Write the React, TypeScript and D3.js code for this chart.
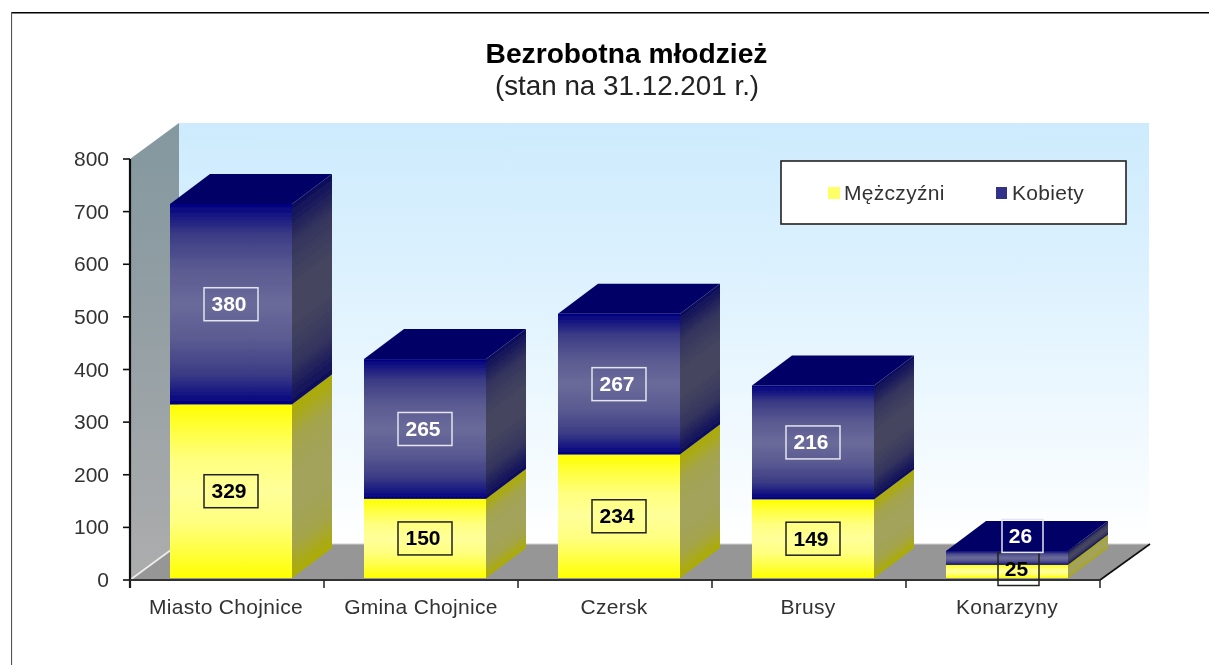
import React from "react";
import * as d3 from "d3";

const categories = ["Miasto Chojnice", "Gmina Chojnice", "Czersk", "Brusy", "Konarzyny"];
const men = [329, 150, 234, 149, 25];
const women = [380, 265, 267, 216, 26];
const yTicks = [0, 100, 200, 300, 400, 500, 600, 700, 800];
const seriesNames = ["Mężczyźni", "Kobiety"];
const titleText = "Bezrobotna młodzież";
const subtitleText = "(stan na 31.12.201 r.)";

const FONT = "'Liberation Sans', Arial, sans-serif";
const AX = { left: 130, right: 1100, top: 159, bottom: 580 };
const WALL = { dx: 49, dy: 36 };
const BAR = { inset: 40, width: 122, dx: 40, dy: 30 };

const rows = categories.map((c, i) => ({ c, m: men[i], k: women[i] }));
const stack = d3.stack<any>().keys(["m", "k"])(rows);
const x = d3.scaleBand<string>().domain(categories).range([AX.left, AX.right]);
const y = d3.scaleLinear().domain([0, 800]).range([AX.bottom, AX.top]);
// bars stand slightly forward of the axis plane, so they have their own scale
const yBar = d3.scaleLinear().domain([0, 800]).range([578, 156]);

const line = d3.line();
const poly = (p: [number, number][]) => line(p) + "Z";

const palette = [
  { front: "fYellow", sideEdge: "#acac00", sideMid: "#a4a44c", sideCentre: "#a3a35c", text: "#000", box: "#222" },
  { front: "fBlue", sideEdge: "#0c0c5a", sideMid: "#35355e", sideCentre: "#44445f", text: "#fff", box: "#e4e4ee" },
];
const topColor = "#000066";

// Konarzyny's two labels sit away from their segments in the source.
const labelShift: Record<string, { dx: number; dy: number }> = {
  "0-4": { dx: 11.5, dy: -2.4 },
  "1-4": { dx: 15.5, dy: -22 },
};
const catNudge: Record<string, number> = { "Gmina Chojnice": 1, Konarzyny: 5 };

export default function App() {
  // side-face gradients run square to the depth direction of the box
  const len = Math.hypot(BAR.dx, BAR.dy);
  const nx = BAR.dy / len;
  const ny = BAR.dx / len;
  return (
    <svg width={1209} height={665} style={{ position: "absolute", left: 0, top: 0, background: "#fff" }} fontFamily={FONT}>
      <defs>
        <filter id="soft" x="0" y="0" width="100%" height="100%">
          <feGaussianBlur stdDeviation="0.4" />
        </filter>
        <linearGradient id="wallBack" x1="0" y1="0" x2="0" y2="1">
          <stop offset="0" stopColor="#cdebfd" />
          <stop offset="0.35" stopColor="#dcf1fe" />
          <stop offset="1" stopColor="#ffffff" />
        </linearGradient>
        <linearGradient id="wallLeft" x1="0" y1="0" x2="0" y2="1">
          <stop offset="0" stopColor="#84989f" />
          <stop offset="0.4" stopColor="#929ea4" />
          <stop offset="1" stopColor="#adadad" />
        </linearGradient>
        <linearGradient id="fYellow" x1="0" y1="0" x2="0" y2="1">
          <stop offset="0" stopColor="#ffff00" />
          <stop offset="0.15" stopColor="#ffff40" />
          <stop offset="0.32" stopColor="#ffff80" />
          <stop offset="0.5" stopColor="#ffff99" />
          <stop offset="0.68" stopColor="#ffff80" />
          <stop offset="0.85" stopColor="#ffff40" />
          <stop offset="1" stopColor="#ffff00" />
        </linearGradient>
        <linearGradient id="fBlue" x1="0" y1="0" x2="0" y2="1">
          <stop offset="0" stopColor="#000080" />
          <stop offset="0.15" stopColor="#3b3b85" />
          <stop offset="0.32" stopColor="#5a5a92" />
          <stop offset="0.5" stopColor="#6a6a9a" />
          <stop offset="0.68" stopColor="#5a5a92" />
          <stop offset="0.85" stopColor="#3b3b85" />
          <stop offset="1" stopColor="#000080" />
        </linearGradient>
        {categories.map((c, i) => {
          const x1 = x(c)! + BAR.inset + BAR.width;
          return stack.map((s, si) => {
            const yT = yBar(s[i][1]);
            const h = yBar(s[i][0]) - yT;
            const proj = h * ny;
            const p = palette[si];
            return (
              <linearGradient
                key={`${c}${si}`}
                id={`side-${i}-${si}`}
                gradientUnits="userSpaceOnUse"
                x1={x1}
                y1={yT}
                x2={x1 + nx * proj}
                y2={yT + ny * proj}
              >
                <stop offset="0" stopColor={p.sideEdge} />
                <stop offset="0.2" stopColor={p.sideMid} />
                <stop offset="0.4" stopColor={p.sideCentre} />
                <stop offset="0.6" stopColor={p.sideCentre} />
                <stop offset="0.8" stopColor={p.sideMid} />
                <stop offset="1" stopColor={p.sideEdge} />
              </linearGradient>
            );
          });
        })}
      </defs>

      <g filter="url(#soft)">
        {/* frame */}
        <line x1={11} y1={12.5} x2={1209} y2={12.5} stroke="#000" strokeWidth={1.8} />
        <line x1={11} y1={12} x2={11} y2={665} stroke="#555" strokeWidth={2.2} />

        {/* title */}
        <text x={626.5} y={63} textAnchor="middle" fontSize={28.2} fontWeight={700} fill="#000">{titleText}</text>
        <text x={627} y={95} textAnchor="middle" fontSize={27.8} fill="#222">{subtitleText}</text>

        {/* walls and floor */}
        <rect x={AX.left + WALL.dx} y={AX.top - WALL.dy} width={AX.right - AX.left} height={AX.bottom - AX.top} fill="url(#wallBack)" />
        <path d={poly([[AX.left, AX.top], [AX.left + WALL.dx, AX.top - WALL.dy], [AX.left + WALL.dx, AX.bottom - WALL.dy], [AX.left, AX.bottom]])} fill="url(#wallLeft)" />
        <path d={poly([[AX.left, AX.bottom], [AX.left + WALL.dx, AX.bottom - WALL.dy], [AX.right + WALL.dx, AX.bottom - WALL.dy], [AX.right, AX.bottom]])} fill="#969696" />
        <line x1={AX.left} y1={AX.bottom} x2={AX.left + WALL.dx} y2={AX.bottom - WALL.dy} stroke="#eee" strokeWidth={1.6} />
        <line x1={AX.left + WALL.dx} y1={AX.bottom - WALL.dy} x2={AX.right + WALL.dx} y2={AX.bottom - WALL.dy} stroke="#cfcfcf" strokeWidth={1} />
        <line x1={AX.right} y1={AX.bottom} x2={AX.right + WALL.dx + 1} y2={AX.bottom - WALL.dy} stroke="#111" strokeWidth={1.6} />

        {/* y axis */}
        <line x1={AX.left} y1={AX.top} x2={AX.left} y2={AX.bottom + 8} stroke="#111" strokeWidth={2.2} />
        {yTicks.map((t) => (
          <g key={t}>
            <line x1={AX.left - 7} x2={AX.left} y1={y(t)} y2={y(t)} stroke="#111" strokeWidth={1.6} />
            <text x={AX.left - 21} y={y(t) + 7} textAnchor="end" fontSize={21} fill="#333">{t}</text>
          </g>
        ))}

        {/* x axis */}
        <line x1={AX.left} y1={AX.bottom} x2={AX.right} y2={AX.bottom} stroke="#333" strokeWidth={2.2} />
        {[...categories.map((c) => x(c)!), AX.right].map((v) => (
          <line key={v} x1={v} x2={v} y1={AX.bottom} y2={AX.bottom + 8} stroke="#222" strokeWidth={1.5} />
        ))}
        {categories.map((c) => (
          <text key={c} x={x(c)! + x.bandwidth() / 2 - 1 + (catNudge[c] ?? 0)} y={614} textAnchor="middle" fontSize={21} letterSpacing={0.3} fill="#333">{c}</text>
        ))}

        {/* bars */}
        {categories.map((c, i) => {
          const x0 = x(c)! + BAR.inset;
          const x1 = x0 + BAR.width;
          const top = yBar(stack[1][i][1]);
          return (
            <g key={c}>
              {stack.map((s, si) => {
                const yTop = yBar(s[i][1]);
                const yBot = yBar(s[i][0]);
                return (
                  <g key={si}>
                    <path d={poly([[x1, yBot], [x1 + BAR.dx, yBot - BAR.dy], [x1 + BAR.dx, yTop - BAR.dy], [x1, yTop]])} fill={`url(#side-${i}-${si})`} />
                    <rect x={x0} y={yTop} width={BAR.width} height={yBot - yTop} fill={`url(#${palette[si].front})`} />
                  </g>
                );
              })}
              <path d={poly([[x0, top], [x0 + BAR.dx, top - BAR.dy], [x1 + BAR.dx, top - BAR.dy], [x1, top]])} fill={topColor} />
            </g>
          );
        })}

        {/* value labels */}
        {categories.map((c, i) => {
          const cx = x(c)! + BAR.inset + BAR.width / 2;
          return stack.map((s, si) => {
            const v = s[i][1] - s[i][0];
            const sh = labelShift[`${si}-${i}`] ?? { dx: 0, dy: 0 };
            const cy = (yBar(s[i][0]) + yBar(s[i][1])) / 2 + sh.dy;
            const w = String(v).length === 3 ? 54 : 41;
            return (
              <g key={`${c}-${si}`}>
                <rect x={cx + sh.dx - w / 2} y={cy - 16.5} width={w} height={33} fill="none" stroke={palette[si].box} strokeWidth={1.5} />
                <text x={cx + sh.dx - 2} y={cy + 6.8} textAnchor="middle" fontSize={21} fontWeight={700} fill={palette[si].text}>{v}</text>
              </g>
            );
          });
        })}

        {/* legend */}
        <rect x={781} y={161} width={345} height={63} fill="#fff" stroke="#222" strokeWidth={1.6} />
        <rect x={828} y={187} width={12} height={12} fill="#ffff66" />
        <text x={844} y={200} fontSize={21} letterSpacing={0.3} fill="#333">{seriesNames[0]}</text>
        <rect x={996} y={187} width={11} height={12} fill="#333388" />
        <text x={1012} y={200} fontSize={21} letterSpacing={0.3} fill="#333">{seriesNames[1]}</text>
      </g>
    </svg>
  );
}
